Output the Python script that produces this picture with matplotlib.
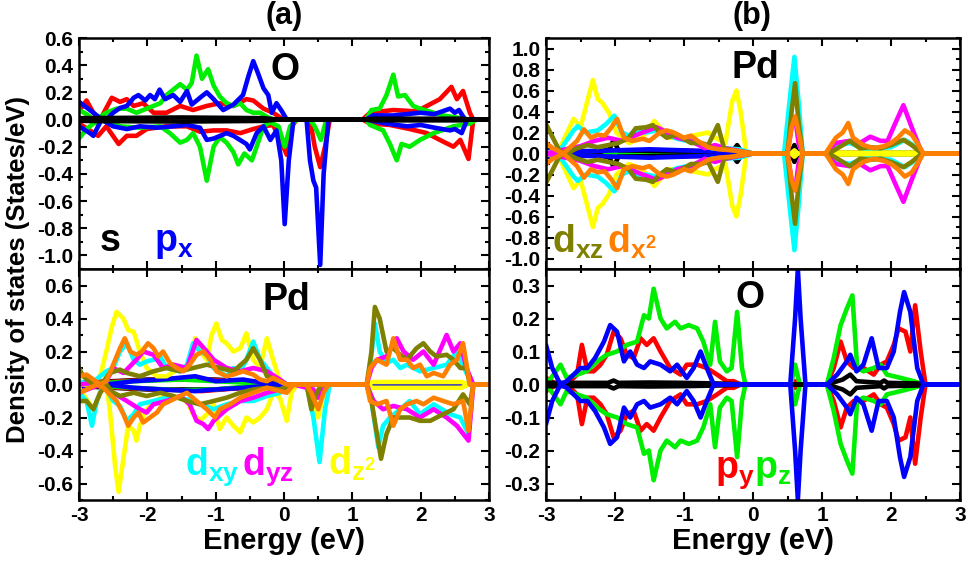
import numpy as np
import matplotlib
matplotlib.use("Agg")
import matplotlib.pyplot as plt
from matplotlib.ticker import MultipleLocator, FormatStrFormatter

plt.rcParams['font.family'] = ['Liberation Sans', 'DejaVu Sans']
plt.rcParams['font.weight'] = 'bold'
plt.rcParams['axes.unicode_minus'] = False
plt.rcParams['mathtext.fontset'] = 'custom'
plt.rcParams['mathtext.bf'] = 'Liberation Sans:bold'
plt.rcParams['mathtext.rm'] = 'Liberation Sans:bold'
plt.rcParams['mathtext.it'] = 'Liberation Sans:bold'

# ---------------- colours ----------------
C_s, C_px, C_py, C_pz = 'black', '#0000ff', '#ff0000', '#00ee00'
C_dxy, C_dyz, C_dz2, C_dxz, C_dx2 = '#00ffff', '#ff00ff', '#ffff00', '#808000', '#ff8000'

# ---------------- (a) top : O, spin up / spin down ----------------
O_a_px_up = [(-3.0,0.13),(-2.84,0.07),(-2.69,0.01),(-2.6,0.0),(-2.5,0.05),(-2.4,0.085),(-2.3,0.1),(-2.2,0.16),(-2.13,0.18),(-2.03,0.14),(-1.96,0.18),(-1.89,0.15),(-1.82,0.22),(-1.74,0.15),(-1.62,0.18),(-1.52,0.13),(-1.42,0.21),(-1.35,0.11),(-1.23,0.16),(-1.13,0.2),(-1.03,0.15),(-0.89,0.07),(-0.74,0.11),(-0.6,0.18),(-0.52,0.32),(-0.45,0.43),(-0.38,0.34),(-0.3,0.23),(-0.23,0.18),(-0.18,0.05),(-0.11,0.12),(-0.03,0.06),(0.04,0.0),(1.2,0.0),(1.3,0.03),(1.6,0.03),(1.8,0.04),(2.0,0.05),(2.2,0.04),(2.43,0.08),(2.5,0.05),(2.56,0.07),(2.65,0.0),(3.0,0.0)]
O_a_px_dn = [(-3.0,-0.05),(-2.84,-0.1),(-2.79,-0.12),(-2.67,0.0),(-2.5,-0.05),(-2.3,-0.07),(-2.11,-0.05),(-1.86,-0.06),(-1.62,-0.05),(-1.42,-0.04),(-1.23,-0.06),(-1.13,-0.15),(-1.03,-0.14),(-0.84,-0.1),(-0.74,-0.12),(-0.55,-0.18),(-0.5,-0.22),(-0.4,-0.1),(-0.3,-0.05),(-0.2,-0.15),(-0.11,-0.08),(-0.04,-0.3),(0.01,-0.77),(0.07,-0.3),(0.14,0.0),(0.33,0.0),(0.38,-0.3),(0.43,-0.45),(0.47,-0.5),(0.53,-1.07),(0.58,-0.4),(0.65,0.0),(1.2,0.0),(1.5,-0.03),(1.8,-0.05),(2.0,-0.04),(2.2,-0.06),(2.43,-0.08),(2.5,-0.07),(2.6,-0.1),(2.68,0.0),(3.0,0.0)]
O_a_py_up = [(-3.0,0.06),(-2.89,0.14),(-2.79,0.05),(-2.69,0.0),(-2.52,0.16),(-2.4,0.13),(-2.3,0.15),(-2.2,0.1),(-2.06,0.12),(-1.91,0.05),(-1.72,0.05),(-1.52,0.1),(-1.33,0.07),(-1.13,0.1),(-0.94,0.12),(-0.74,0.1),(-0.55,0.15),(-0.45,0.14),(-0.3,0.08),(-0.16,0.05),(-0.01,0.0),(1.15,0.0),(1.26,0.05),(1.6,0.07),(1.94,0.06),(2.28,0.15),(2.45,0.24),(2.53,0.15),(2.62,0.21),(2.72,0.05),(2.77,0.0),(3.0,0.0)]
O_a_py_dn = [(-3.0,-0.03),(-2.84,-0.08),(-2.72,-0.12),(-2.6,-0.05),(-2.42,-0.18),(-2.3,-0.12),(-2.16,-0.12),(-2.01,-0.07),(-1.72,-0.05),(-1.42,-0.05),(-1.23,-0.09),(-1.03,-0.08),(-0.84,-0.08),(-0.64,-0.1),(-0.45,-0.07),(-0.3,-0.05),(-0.16,-0.04),(-0.01,-0.2),(0.04,-0.26),(0.11,-0.05),(0.19,0.0),(0.38,0.0),(0.45,-0.2),(0.53,-0.35),(0.6,-0.2),(0.67,0.0),(1.15,0.0),(1.26,-0.03),(1.55,-0.04),(1.84,-0.07),(2.09,-0.1),(2.28,-0.15),(2.48,-0.2),(2.58,-0.15),(2.7,-0.29),(2.77,0.0),(3.0,0.0)]
O_a_pz_up = [(-3.0,0.07),(-2.89,0.04),(-2.79,0.0),(-2.69,0.02),(-2.6,0.05),(-2.45,0.08),(-2.3,0.08),(-2.16,0.05),(-2.01,0.08),(-1.81,0.12),(-1.72,0.18),(-1.62,0.22),(-1.52,0.26),(-1.42,0.22),(-1.35,0.27),(-1.28,0.47),(-1.2,0.3),(-1.11,0.37),(-1.03,0.25),(-0.94,0.17),(-0.84,0.12),(-0.74,0.1),(-0.64,0.12),(-0.55,0.07),(-0.45,0.05),(-0.35,0.05),(-0.25,0.02),(-0.16,0.0),(1.2,0.0),(1.28,0.07),(1.4,0.08),(1.5,0.18),(1.6,0.33),(1.67,0.17),(1.77,0.18),(1.89,0.1),(1.99,0.08),(2.19,0.05),(2.33,0.03),(2.58,0.01),(2.72,0.0),(3.0,0.0)]
O_a_pz_dn = [(-3.0,-0.14),(-2.89,-0.07),(-2.79,-0.03),(-2.6,0.0),(-2.4,-0.05),(-2.11,-0.06),(-1.81,-0.05),(-1.67,-0.1),(-1.52,-0.17),(-1.42,-0.15),(-1.33,-0.1),(-1.23,-0.2),(-1.13,-0.45),(-1.03,-0.2),(-0.94,-0.13),(-0.84,-0.17),(-0.74,-0.24),(-0.67,-0.33),(-0.58,-0.25),(-0.47,-0.3),(-0.4,-0.2),(-0.3,-0.05),(-0.2,-0.02),(-0.08,-0.05),(0.01,-0.2),(0.09,-0.05),(0.19,0.0),(0.38,0.0),(0.45,-0.05),(0.54,-0.15),(0.62,0.0),(1.2,0.0),(1.26,-0.04),(1.45,-0.08),(1.55,-0.18),(1.65,-0.3),(1.72,-0.18),(1.84,-0.2),(1.99,-0.15),(2.19,-0.1),(2.48,-0.05),(2.72,-0.03),(2.82,0.0),(3.0,0.0)]
O_a_s_up = [(-3.0,0.01),(-1.5,0.015),(-0.3,0.01),(-0.1,0.0),(1.2,0.0),(1.3,0.006),(2.6,0.006),(2.7,0.0),(3.0,0.0)]
O_a_s_dn = [(-3.0,-0.01),(-1.5,-0.015),(-0.3,-0.01),(-0.1,0.0),(1.2,0.0),(1.3,-0.006),(2.6,-0.006),(2.7,0.0),(3.0,0.0)]

# ---------------- (a) bottom : Pd, spin up / spin down ----------------
Pd_a_dz2_up = [(-3.0,0.0),(-2.79,0.0),(-2.69,0.05),(-2.6,0.2),(-2.52,0.35),(-2.45,0.44),(-2.35,0.4),(-2.28,0.33),(-2.2,0.32),(-2.11,0.2),(-2.01,0.1),(-1.86,0.05),(-1.72,0.05),(-1.52,0.1),(-1.38,0.12),(-1.3,0.28),(-1.23,0.2),(-1.13,0.15),(-1.06,0.3),(-0.99,0.37),(-0.91,0.27),(-0.84,0.25),(-0.74,0.2),(-0.64,0.22),(-0.55,0.31),(-0.45,0.15),(-0.35,0.1),(-0.25,0.28),(-0.16,0.15),(-0.06,0.02),(0.04,0.0),(1.2,0.0),(1.3,0.015),(2.6,0.015),(2.7,0.0),(3.0,0.0)]
Pd_a_dz2_dn = [(-3.0,-0.02),(-2.79,-0.15),(-2.69,-0.05),(-2.6,0.0),(-2.55,-0.15),(-2.47,-0.5),(-2.42,-0.65),(-2.35,-0.45),(-2.28,-0.25),(-2.2,-0.28),(-2.16,-0.34),(-2.11,-0.25),(-2.01,-0.15),(-1.81,-0.08),(-1.62,-0.07),(-1.42,-0.1),(-1.33,-0.18),(-1.23,-0.22),(-1.13,-0.18),(-1.03,-0.12),(-0.94,-0.27),(-0.84,-0.2),(-0.74,-0.25),(-0.64,-0.29),(-0.55,-0.2),(-0.45,-0.23),(-0.35,-0.2),(-0.25,-0.15),(-0.16,-0.05),(-0.06,-0.08),(0.04,-0.22),(0.11,-0.05),(0.19,0.0),(0.38,0.0),(0.5,-0.2),(0.58,-0.05),(0.65,0.0),(1.2,0.0),(1.3,-0.02),(2.6,-0.02),(2.7,0.0),(3.0,0.0)]
Pd_a_dxy_up = [(-3.0,0.02),(-2.84,0.0),(-2.69,0.05),(-2.6,0.08),(-2.5,0.1),(-2.4,0.2),(-2.3,0.25),(-2.2,0.15),(-2.11,0.12),(-2.01,0.14),(-1.91,0.15),(-1.81,0.17),(-1.72,0.1),(-1.52,0.08),(-1.42,0.12),(-1.33,0.25),(-1.23,0.2),(-1.13,0.18),(-1.03,0.1),(-0.84,0.05),(-0.74,0.1),(-0.64,0.08),(-0.55,0.15),(-0.45,0.26),(-0.35,0.15),(-0.25,0.1),(-0.16,0.05),(0.04,0.0),(1.21,0.0),(1.26,0.1),(1.33,0.37),(1.4,0.2),(1.5,0.13),(1.6,0.15),(1.7,0.1),(1.8,0.12),(1.99,0.08),(2.19,0.1),(2.38,0.12),(2.53,0.2),(2.67,0.07),(2.77,0.0),(3.0,0.0)]
Pd_a_dxy_dn = [(-3.0,-0.05),(-2.89,-0.1),(-2.81,-0.25),(-2.74,-0.1),(-2.64,0.0),(-2.5,-0.1),(-2.4,-0.13),(-2.3,-0.22),(-2.2,-0.18),(-2.11,-0.12),(-1.91,-0.1),(-1.72,-0.08),(-1.52,-0.08),(-1.33,-0.1),(-1.23,-0.12),(-1.03,-0.15),(-0.84,-0.12),(-0.64,-0.1),(-0.45,-0.1),(-0.25,-0.07),(-0.06,-0.05),(0.14,0.0),(0.33,0.0),(0.43,-0.2),(0.52,-0.47),(0.6,-0.15),(0.67,0.0),(1.21,0.0),(1.28,-0.1),(1.38,-0.38),(1.45,-0.25),(1.55,-0.2),(1.7,-0.15),(1.84,-0.1),(1.99,-0.18),(2.19,-0.12),(2.43,-0.18),(2.58,-0.2),(2.7,-0.3),(2.77,0.0),(3.0,0.0)]
Pd_a_dyz_up = [(-3.0,0.0),(-2.6,0.02),(-2.5,0.1),(-2.35,0.07),(-2.16,0.15),(-2.06,0.2),(-1.91,0.18),(-1.77,0.1),(-1.62,0.12),(-1.42,0.1),(-1.28,0.27),(-1.13,0.2),(-1.03,0.15),(-0.84,0.1),(-0.64,0.08),(-0.45,0.1),(-0.25,0.08),(-0.06,0.03),(0.04,0.0),(1.21,0.0),(1.28,0.1),(1.36,0.15),(1.5,0.17),(1.65,0.28),(1.75,0.2),(1.89,0.15),(2.04,0.2),(2.19,0.12),(2.38,0.3),(2.48,0.2),(2.58,0.25),(2.67,0.1),(2.77,0.0),(3.0,0.0)]
Pd_a_dyz_dn = [(-3.0,-0.05),(-2.69,0.0),(-2.5,-0.05),(-2.3,-0.1),(-2.11,-0.15),(-2.01,-0.17),(-1.91,-0.12),(-1.72,-0.1),(-1.52,-0.07),(-1.38,-0.12),(-1.28,-0.22),(-1.18,-0.24),(-1.11,-0.27),(-1.03,-0.22),(-0.84,-0.15),(-0.64,-0.1),(-0.45,-0.08),(-0.25,-0.05),(-0.06,-0.03),(0.14,0.0),(0.43,-0.03),(0.5,-0.08),(0.58,-0.03),(0.65,0.0),(1.21,0.0),(1.31,-0.1),(1.45,-0.15),(1.6,-0.13),(1.8,-0.15),(1.99,-0.2),(2.19,-0.15),(2.38,-0.2),(2.53,-0.25),(2.7,-0.34),(2.77,0.0),(3.0,0.0)]
Pd_a_dxz_up = [(-3.0,0.1),(-2.94,0.05),(-2.79,0.0),(-2.64,0.02),(-2.55,0.07),(-2.4,0.09),(-2.3,0.07),(-2.11,0.05),(-1.91,0.08),(-1.72,0.1),(-1.52,0.08),(-1.33,0.1),(-1.13,0.12),(-0.94,0.1),(-0.74,0.08),(-0.55,0.15),(-0.45,0.22),(-0.35,0.15),(-0.25,0.05),(-0.06,0.02),(0.04,0.0),(1.21,0.0),(1.28,0.2),(1.33,0.47),(1.4,0.4),(1.5,0.2),(1.6,0.22),(1.7,0.18),(1.8,0.15),(1.94,0.22),(2.04,0.25),(2.14,0.2),(2.23,0.17),(2.38,0.18),(2.48,0.15),(2.58,0.1),(2.67,0.1),(2.72,0.0),(3.0,0.0)]
Pd_a_dxz_dn = [(-3.0,-0.1),(-2.89,-0.1),(-2.79,-0.15),(-2.69,-0.05),(-2.6,0.0),(-2.5,-0.05),(-2.4,-0.07),(-2.2,-0.05),(-2.01,-0.07),(-1.81,-0.05),(-1.62,-0.07),(-1.42,-0.1),(-1.23,-0.12),(-1.03,-0.1),(-0.84,-0.08),(-0.64,-0.05),(-0.45,-0.03),(-0.25,-0.02),(-0.06,-0.03),(0.14,0.0),(0.33,0.0),(0.4,-0.15),(0.48,-0.05),(0.55,0.0),(1.21,0.0),(1.28,-0.1),(1.38,-0.35),(1.42,-0.45),(1.5,-0.3),(1.6,-0.2),(1.7,-0.2),(1.84,-0.2),(1.99,-0.22),(2.14,-0.22),(2.33,-0.18),(2.48,-0.15),(2.62,-0.06),(2.72,-0.12),(2.77,0.0),(3.0,0.0)]
Pd_a_dx2_up = [(-3.0,0.05),(-2.89,0.06),(-2.79,0.03),(-2.69,0.0),(-2.6,0.02),(-2.5,0.12),(-2.4,0.22),(-2.33,0.28),(-2.25,0.2),(-2.16,0.18),(-2.08,0.2),(-1.99,0.25),(-1.91,0.22),(-1.84,0.17),(-1.77,0.2),(-1.67,0.13),(-1.57,0.1),(-1.47,0.08),(-1.38,0.12),(-1.28,0.18),(-1.18,0.2),(-1.08,0.15),(-0.99,0.08),(-0.84,0.05),(-0.74,0.06),(-0.6,0.08),(-0.45,0.06),(-0.35,0.03),(-0.25,0.02),(-0.16,0.04),(-0.06,0.02),(0.04,0.0),(1.21,0.0),(1.26,0.1),(1.36,0.15),(1.5,0.12),(1.6,0.28),(1.7,0.15),(1.8,0.15),(1.89,0.1),(1.99,0.12),(2.09,0.05),(2.19,0.07),(2.33,0.05),(2.43,0.12),(2.53,0.15),(2.62,0.25),(2.72,0.0),(3.0,0.0)]
Pd_a_dx2_dn = [(-3.0,-0.05),(-2.89,-0.03),(-2.74,0.0),(-2.64,-0.02),(-2.55,-0.06),(-2.45,-0.1),(-2.35,-0.18),(-2.28,-0.25),(-2.2,-0.2),(-2.13,-0.17),(-2.06,-0.23),(-1.96,-0.2),(-1.86,-0.17),(-1.77,-0.12),(-1.67,-0.1),(-1.52,-0.07),(-1.42,-0.05),(-1.28,-0.1),(-1.13,-0.15),(-1.01,-0.2),(-0.94,-0.15),(-0.79,-0.12),(-0.64,-0.08),(-0.45,-0.05),(-0.25,-0.02),(-0.06,-0.04),(0.04,-0.05),(0.14,0.0),(0.33,0.0),(0.4,-0.05),(0.5,-0.15),(0.58,-0.05),(0.65,0.0),(1.21,0.0),(1.26,-0.1),(1.36,-0.12),(1.5,-0.1),(1.6,-0.25),(1.7,-0.15),(1.8,-0.12),(1.94,-0.1),(2.04,-0.12),(2.19,-0.08),(2.33,-0.1),(2.48,-0.12),(2.62,-0.1),(2.7,-0.28),(2.77,0.0),(3.0,0.0)]
Pd_a_s_up = [(-3.0,0.01),(-2.0,0.03),(-1.0,0.03),(-0.2,0.01),(0.0,0.0),(3.0,0.0)]
Pd_a_s_dn = [(-3.0,-0.01),(-2.0,-0.03),(-1.0,-0.03),(-0.2,-0.01),(0.0,0.0),(3.0,0.0)]
Pd_a_py_up = [(-3.0,0.0),(-2.4,0.02),(-1.8,0.03),(-1.2,0.03),(-0.6,0.02),(0.0,0.0),(3.0,0.0)]
Pd_a_py_dn = [(-3.0,0.0),(-2.4,-0.02),(-1.8,-0.03),(-1.2,-0.04),(-0.6,-0.02),(0.0,0.0),(3.0,0.0)]
Pd_a_pz_up = [(-3.0,0.0),(-2.6,0.01),(-2.2,0.02),(-1.5,0.03),(-1.0,0.02),(-0.5,0.01),(0.0,0.0),(3.0,0.0)]
Pd_a_pz_dn = [(-3.0,0.0),(-2.6,-0.01),(-2.2,-0.02),(-1.5,-0.035),(-1.0,-0.03),(-0.5,-0.01),(0.0,0.0),(3.0,0.0)]
Pd_a_px_up = [(-3.0,0.01),(-2.6,0.0),(-2.2,0.02),(-1.8,0.03),(-1.3,0.05),(-1.0,0.02),(-0.6,0.03),(-0.3,0.01),(0.0,0.0),(1.2,0.0),(1.3,0.01),(2.6,0.01),(2.7,0.0),(3.0,0.0)]
Pd_a_px_dn = [(-3.0,-0.02),(-2.6,0.0),(-2.2,-0.02),(-1.8,-0.03),(-1.3,-0.04),(-1.0,-0.03),(-0.6,-0.02),(-0.3,-0.01),(0.0,0.0),(1.2,0.0),(1.3,-0.01),(2.6,-0.01),(2.7,0.0),(3.0,0.0)]

# ---------------- (b) top : Pd (spin symmetric, spin down = -up) ----------------
Pd_b_dz2 = [(-3.0,0.0),(-2.8,0.05),(-2.6,0.33),(-2.5,0.25),(-2.42,0.45),(-2.32,0.7),(-2.25,0.52),(-2.18,0.48),(-2.08,0.38),(-1.98,0.2),(-1.8,0.1),(-1.6,0.15),(-1.43,0.31),(-1.35,0.25),(-1.2,0.15),(-1.0,0.15),(-0.8,0.18),(-0.65,0.2),(-0.55,0.15),(-0.4,0.1),(-0.3,0.5),(-0.24,0.6),(-0.18,0.4),(-0.1,0.02),(0.0,0.0),(0.55,0.0),(0.6,0.03),(0.65,0.0),(1.1,0.0),(1.2,0.01),(2.4,0.01),(2.5,0.0),(3.0,0.0)]
Pd_b_dxy = [(-3.0,0.0),(-2.8,0.03),(-2.6,0.22),(-2.54,0.26),(-2.42,0.2),(-2.25,0.22),(-2.13,0.28),(-2.01,0.36),(-1.9,0.2),(-1.8,0.17),(-1.7,0.22),(-1.55,0.2),(-1.4,0.22),(-1.25,0.18),(-1.1,0.14),(-0.95,0.12),(-0.8,0.1),(-0.6,0.05),(-0.4,0.05),(-0.2,0.04),(0.0,0.0),(0.45,0.0),(0.53,0.5),(0.6,0.92),(0.66,0.5),(0.72,0.0),(1.1,0.0),(1.2,0.07),(1.4,0.1),(1.6,0.05),(1.8,0.05),(2.0,0.06),(2.2,0.13),(2.32,0.08),(2.45,0.0),(3.0,0.0)]
Pd_b_dyz = [(-3.0,0.0),(-2.5,0.07),(-2.3,0.12),(-2.1,0.15),(-1.9,0.12),(-1.6,0.2),(-1.4,0.25),(-1.3,0.22),(-1.1,0.15),(-0.9,0.12),(-0.7,0.05),(-0.55,0.08),(-0.4,0.05),(0.0,0.0),(0.5,0.0),(0.57,0.3),(0.61,0.35),(0.66,0.1),(0.72,0.0),(1.05,0.0),(1.2,0.1),(1.4,0.12),(1.55,0.1),(1.7,0.16),(1.85,0.12),(1.95,0.12),(2.07,0.3),(2.18,0.46),(2.3,0.25),(2.45,0.0),(3.0,0.0)]
Pd_b_dxz = [(-3.0,0.28),(-2.9,0.15),(-2.8,0.02),(-2.7,0.0),(-2.55,0.05),(-2.4,0.08),(-2.25,0.06),(-2.1,0.08),(-1.95,0.1),(-1.8,0.15),(-1.7,0.24),(-1.55,0.25),(-1.45,0.27),(-1.35,0.2),(-1.25,0.15),(-1.1,0.18),(-1.0,0.14),(-0.9,0.1),(-0.75,0.1),(-0.65,0.08),(-0.51,0.27),(-0.42,0.05),(-0.3,0.03),(0.0,0.0),(0.5,0.0),(0.56,0.4),(0.61,0.67),(0.66,0.3),(0.72,0.0),(1.1,0.0),(1.2,0.04),(1.3,0.08),(1.4,0.12),(1.55,0.05),(1.7,0.06),(1.85,0.05),(2.0,0.08),(2.18,0.13),(2.3,0.08),(2.45,0.0),(3.0,0.0)]
Pd_b_dx2 = [(-3.0,0.1),(-2.9,0.05),(-2.75,0.0),(-2.55,0.12),(-2.45,0.23),(-2.35,0.15),(-2.25,0.18),(-2.15,0.17),(-2.05,0.25),(-1.97,0.33),(-1.87,0.15),(-1.75,0.12),(-1.6,0.14),(-1.5,0.12),(-1.35,0.2),(-1.25,0.22),(-1.15,0.2),(-1.0,0.15),(-0.9,0.17),(-0.8,0.12),(-0.65,0.06),(-0.5,0.04),(-0.3,0.03),(0.0,0.0),(0.5,0.0),(0.56,0.25),(0.61,0.35),(0.66,0.2),(0.72,0.0),(1.05,0.0),(1.2,0.15),(1.3,0.2),(1.38,0.29),(1.45,0.15),(1.6,0.08),(1.75,0.05),(1.9,0.07),(2.0,0.1),(2.1,0.15),(2.2,0.22),(2.3,0.18),(2.4,0.08),(2.47,0.0),(3.0,0.0)]
Pd_b_s = [(-3.0,0.03),(-2.2,0.02),(-2.08,0.04),(-2.02,0.13),(-1.95,0.03),(-1.0,0.02),(-0.3,0.02),(-0.23,0.08),(-0.15,0.0),(0.55,0.0),(0.6,0.08),(0.65,0.0),(3.0,0.0)]
Pd_b_px = [(-3.0,0.02),(-2.5,0.02),(-1.5,0.04),(-1.0,0.03),(-0.5,0.02),(0.0,0.0),(1.1,0.0),(1.3,0.01),(2.4,0.01),(2.5,0.0),(3.0,0.0)]
Pd_b_py = [(-3.0,0.01),(-2.0,0.02),(-1.2,0.03),(-0.6,0.02),(0.0,0.0),(3.0,0.0)]
Pd_b_pz = [(-3.0,0.01),(-2.0,0.01),(-1.2,0.015),(-0.6,0.01),(0.0,0.0),(3.0,0.0)]

# ---------------- (b) bottom : O (spin symmetric, spin down = -up) ----------------
O_b_px = [(-3.0,0.12),(-2.91,0.05),(-2.79,0.0),(-2.7,0.01),(-2.6,0.03),(-2.5,0.05),(-2.4,0.05),(-2.29,0.08),(-2.16,0.13),(-2.07,0.18),(-1.97,0.16),(-1.87,0.07),(-1.78,0.1),(-1.68,0.06),(-1.58,0.05),(-1.49,0.07),(-1.34,0.06),(-1.2,0.04),(-1.1,0.06),(-0.96,0.02),(-0.86,0.05),(-0.76,0.1),(-0.67,0.05),(-0.57,0.0),(0.54,0.0),(0.61,0.2),(0.65,0.35),(0.69,0.2),(0.76,0.0),(1.07,0.0),(1.22,0.03),(1.36,0.07),(1.41,0.09),(1.5,0.04),(1.6,0.06),(1.72,0.14),(1.82,0.05),(1.94,0.05),(2.04,0.1),(2.13,0.22),(2.19,0.28),(2.28,0.22),(2.38,0.05),(2.47,0.0),(3.0,0.0)]
O_b_py = [(-3.0,0.02),(-2.84,0.0),(-2.7,0.0),(-2.55,0.03),(-2.48,0.12),(-2.4,0.04),(-2.31,0.04),(-2.21,0.06),(-2.12,0.09),(-2.02,0.16),(-1.92,0.14),(-1.83,0.09),(-1.73,0.08),(-1.63,0.14),(-1.54,0.12),(-1.44,0.14),(-1.34,0.1),(-1.2,0.05),(-1.05,0.03),(-0.96,0.06),(-0.81,0.06),(-0.67,0.05),(-0.52,0.03),(-0.38,0.01),(-0.28,0.01),(-0.18,0.0),(0.55,0.0),(0.61,0.01),(0.68,0.0),(1.07,0.0),(1.17,0.05),(1.27,0.13),(1.36,0.07),(1.46,0.05),(1.6,0.05),(1.75,0.03),(1.85,0.06),(1.94,0.07),(2.04,0.12),(2.11,0.17),(2.21,0.16),(2.28,0.1),(2.35,0.24),(2.43,0.1),(2.5,0.0),(3.0,0.0)]
O_b_pz = [(-3.0,0.0),(-2.89,0.03),(-2.79,0.06),(-2.7,0.02),(-2.55,0.03),(-2.41,0.04),(-2.26,0.07),(-2.12,0.09),(-1.97,0.1),(-1.83,0.12),(-1.68,0.13),(-1.58,0.21),(-1.51,0.2),(-1.44,0.29),(-1.34,0.2),(-1.25,0.17),(-1.13,0.19),(-1.05,0.17),(-0.93,0.18),(-0.81,0.17),(-0.72,0.13),(-0.62,0.06),(-0.55,0.19),(-0.48,0.07),(-0.38,0.04),(-0.31,0.05),(-0.23,0.22),(-0.16,0.05),(-0.11,0.0),(0.55,0.0),(0.61,0.06),(0.68,0.0),(1.07,0.0),(1.17,0.08),(1.27,0.18),(1.36,0.23),(1.44,0.27),(1.51,0.05),(1.6,0.04),(1.75,0.05),(1.85,0.06),(1.94,0.03),(2.14,0.02),(2.33,0.01),(2.47,0.0),(3.0,0.0)]
O_b_s = [(-3.0,0.005),(-2.1,0.005),(-2.02,0.012),(-1.95,0.005),(-1.5,0.006),(-1.0,0.005),(-0.5,0.003),(0.0,0.0),(1.07,0.0),(1.3,0.015),(1.41,0.03),(1.5,0.01),(1.85,0.005),(1.9,0.012),(1.95,0.005),(2.4,0.003),(2.5,0.0),(3.0,0.0)]

# ---------------- axis settings ----------------
x_range = (-3, 3)
ylim_a_top, ylim_a_bot = (-1.1, 0.6), (-0.7, 0.7)
ylim_b_top, ylim_b_bot = (-1.1, 1.1), (-0.35, 0.35)

LW = 3.3


def xy(pairs):
    a = np.asarray(pairs, dtype=float)
    return a[:, 0], a[:, 1]


def plot_pol(ax, up, dn, color):
    for d in (up, dn):
        e, v = xy(d)
        ax.plot(e, v, color=color, lw=LW, solid_joinstyle='round', solid_capstyle='round')


def plot_sym(ax, up, color):
    e, v = xy(up)
    ax.plot(e, v, color=color, lw=LW, solid_joinstyle='round', solid_capstyle='round')
    ax.plot(e, -v, color=color, lw=LW, solid_joinstyle='round', solid_capstyle='round')


fig = plt.figure(figsize=(9.69, 5.62), dpi=100)
W, H = 969.0, 562.0
ax_tl = fig.add_axes([79 / W, 1 - 269 / H, 410 / W, 231 / H])
ax_bl = fig.add_axes([79 / W, 1 - 500 / H, 410 / W, 231 / H])
ax_tr = fig.add_axes([546 / W, 1 - 269 / H, 414 / W, 231 / H])
ax_br = fig.add_axes([546 / W, 1 - 500 / H, 414 / W, 231 / H])

# (a) top
plot_pol(ax_tl, O_a_py_up, O_a_py_dn, C_py)
plot_pol(ax_tl, O_a_pz_up, O_a_pz_dn, C_pz)
plot_pol(ax_tl, O_a_px_up, O_a_px_dn, C_px)
plot_pol(ax_tl, O_a_s_up, O_a_s_dn, C_s)

# (a) bottom
plot_pol(ax_bl, Pd_a_s_up, Pd_a_s_dn, C_s)
plot_pol(ax_bl, Pd_a_py_up, Pd_a_py_dn, C_py)
plot_pol(ax_bl, Pd_a_pz_up, Pd_a_pz_dn, C_pz)
plot_pol(ax_bl, Pd_a_px_up, Pd_a_px_dn, C_px)
plot_pol(ax_bl, Pd_a_dz2_up, Pd_a_dz2_dn, C_dz2)
plot_pol(ax_bl, Pd_a_dxy_up, Pd_a_dxy_dn, C_dxy)
plot_pol(ax_bl, Pd_a_dyz_up, Pd_a_dyz_dn, C_dyz)
plot_pol(ax_bl, Pd_a_dxz_up, Pd_a_dxz_dn, C_dxz)
plot_pol(ax_bl, Pd_a_dx2_up, Pd_a_dx2_dn, C_dx2)

# (b) top
plot_sym(ax_tr, Pd_b_py, C_py)
plot_sym(ax_tr, Pd_b_pz, C_pz)
plot_sym(ax_tr, Pd_b_s, C_s)
plot_sym(ax_tr, Pd_b_px, C_px)
plot_sym(ax_tr, Pd_b_dz2, C_dz2)
plot_sym(ax_tr, Pd_b_dxy, C_dxy)
plot_sym(ax_tr, Pd_b_dyz, C_dyz)
plot_sym(ax_tr, Pd_b_dxz, C_dxz)
plot_sym(ax_tr, Pd_b_dx2, C_dx2)

# (b) bottom
plot_sym(ax_br, O_b_py, C_py)
plot_sym(ax_br, O_b_pz, C_pz)
plot_sym(ax_br, O_b_s, C_s)
plot_sym(ax_br, O_b_px, C_px)

TICKFS = 15
for ax, ylim, ymaj, ymin in [(ax_tl, ylim_a_top, 0.2, 0.1), (ax_bl, ylim_a_bot, 0.2, 0.1),
                             (ax_tr, ylim_b_top, 0.2, 0.1), (ax_br, ylim_b_bot, 0.1, 0.05)]:
    ax.set_xlim(*x_range)
    ax.set_ylim(*ylim)
    ax.xaxis.set_major_locator(MultipleLocator(1))
    ax.xaxis.set_minor_locator(MultipleLocator(0.5))
    ax.yaxis.set_major_locator(MultipleLocator(ymaj))
    ax.yaxis.set_minor_locator(MultipleLocator(ymin))
    ax.yaxis.set_major_formatter(FormatStrFormatter('%.1f'))
    ax.tick_params(which='both', direction='in', top=True, right=True, width=1.5)
    ax.tick_params(which='major', length=6, labelsize=TICKFS, pad=4)
    ax.tick_params(which='minor', length=3)
    for sp in ax.spines.values():
        sp.set_linewidth(1.8)
    for lab in ax.get_xticklabels() + ax.get_yticklabels():
        lab.set_fontweight('bold')

for ax in (ax_tl, ax_tr):
    ax.tick_params(labelbottom=False)
for ax in (ax_bl, ax_br):
    ax.set_xlabel('Energy (eV)', fontsize=21, fontweight='bold', labelpad=2)

# panel texts
BIG = 27
ax_tl.text(0.01, 0.29, 'O', fontsize=BIG, fontweight='bold', ha='center', va='baseline')
ax_tl.text(-2.7, -0.97, 's', fontsize=BIG, fontweight='bold', color=C_s, va='baseline')
ax_tl.text(-1.9, -0.97, r'$\mathbf{p}_{\mathbf{x}}$', fontsize=BIG, color=C_px, va='baseline')

ax_bl.text(0.03, 0.45, 'Pd', fontsize=BIG, fontweight='bold', ha='center', va='baseline')
ax_bl.text(-1.45, -0.545, r'$\mathbf{d}_{\mathbf{xy}}$', fontsize=BIG, color=C_dxy, va='baseline')
ax_bl.text(-0.62, -0.545, r'$\mathbf{d}_{\mathbf{yz}}$', fontsize=BIG, color=C_dyz, va='baseline')
ax_bl.text(0.65, -0.545, r'$\mathbf{d}_{\mathbf{z^2}}$', fontsize=BIG, color=C_dz2, va='baseline')

ax_tr.text(0.04, 0.72, 'Pd', fontsize=BIG, fontweight='bold', ha='center', va='baseline')
ax_tr.text(-2.91, -0.94, r'$\mathbf{d}_{\mathbf{xz}}$', fontsize=BIG, color=C_dxz, va='baseline')
ax_tr.text(-2.12, -0.94, r'$\mathbf{d}_{\mathbf{x^2}}$', fontsize=BIG, color=C_dx2, va='baseline')

ax_br.text(-0.04, 0.232, 'O', fontsize=BIG, fontweight='bold', ha='center', va='baseline')
ax_br.text(-0.55, -0.283, r'$\mathbf{p}_{\mathbf{y}}$', fontsize=BIG, color=C_py, va='baseline')
ax_br.text(0.01, -0.283, r'$\mathbf{p}_{\mathbf{z}}$', fontsize=BIG, color=C_pz, va='baseline')

fig.text(284 / W, 1 - 16 / H, '(a)', fontsize=22, fontweight='bold', ha='center', va='center')
fig.text(752 / W, 1 - 16 / H, '(b)', fontsize=22, fontweight='bold', ha='center', va='center')
fig.text(18 / W, 1 - 269 / H, 'Density of states (States/eV)', fontsize=18.5, fontweight='bold',
         rotation=90, ha='center', va='center')

fig.savefig('out.png', dpi=100)
